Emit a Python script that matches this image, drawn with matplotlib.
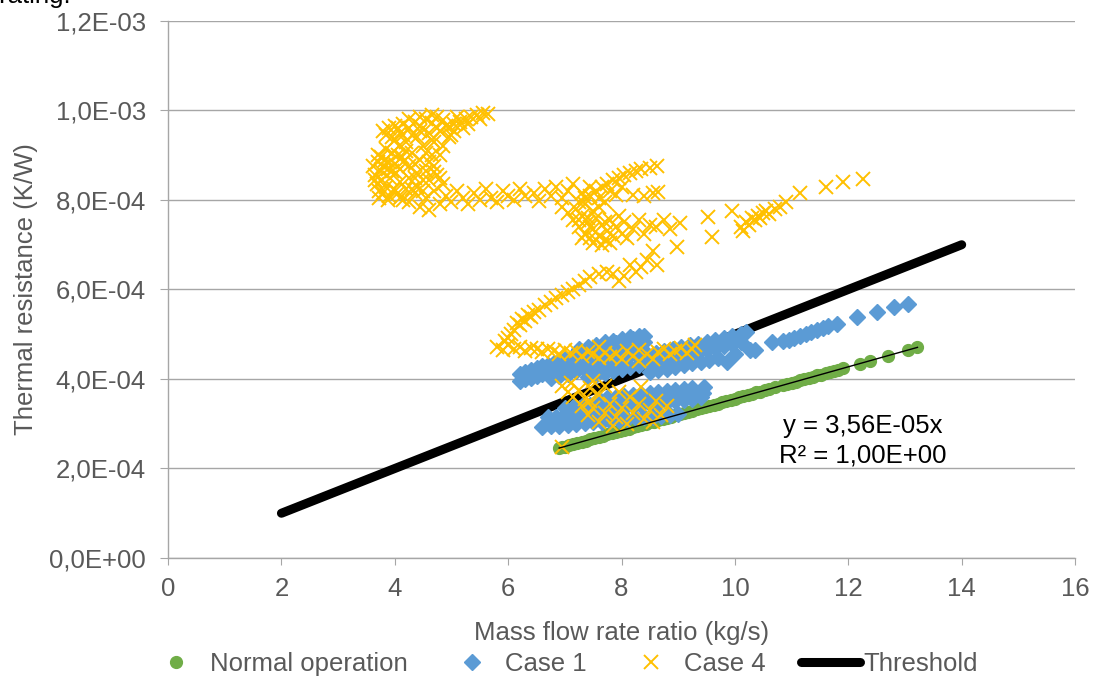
import numpy as np
import matplotlib
matplotlib.use("Agg")
import matplotlib.pyplot as plt
from matplotlib.ticker import FuncFormatter, MultipleLocator

plt.rcParams['font.family'] = ['Liberation Sans', 'DejaVu Sans']

GREEN = '#70AD47'
BLUE = '#5B9BD5'
YELLOW = '#FFC000'
GRID = '#A6A6A6'
TEXT = '#595959'
FS = 18.5

# ---- data (resistance values in units of 1E-04 K/W) ----
normal_x = [6.90, 6.95, 7.00, 7.08, 7.15, 7.22, 7.30, 7.37, 7.45, 7.52, 7.60, 7.68, 7.75, 7.83,
            7.90, 7.98, 8.05, 8.13, 8.20, 8.28, 8.35, 8.43, 8.50, 8.58, 8.65, 8.73, 8.80, 8.88,
            8.95, 9.03, 9.10, 9.18, 9.25, 9.33, 9.40, 9.48, 9.55, 9.63, 9.70, 9.78, 9.85, 9.93,
            10.00, 10.08, 10.15, 10.23, 10.30, 10.38, 10.45, 10.53, 10.60, 10.70, 10.85, 10.92,
            11.00, 11.08, 11.15, 11.22, 11.30, 11.38, 11.45, 11.52, 11.60, 11.68, 11.75, 11.82,
            11.90, 12.20, 12.38, 12.70, 13.05, 13.22]
normal_y = [2.46, 2.47, 2.49, 2.52, 2.55, 2.57, 2.60, 2.62, 2.65, 2.68, 2.71, 2.73, 2.76, 2.79,
            2.81, 2.84, 2.87, 2.89, 2.92, 2.95, 2.97, 3.00, 3.03, 3.05, 3.08, 3.11, 3.13, 3.16,
            3.19, 3.22, 3.24, 3.27, 3.29, 3.32, 3.35, 3.38, 3.40, 3.43, 3.45, 3.48, 3.51, 3.54,
            3.56, 3.59, 3.61, 3.64, 3.67, 3.70, 3.72, 3.75, 3.77, 3.81, 3.86, 3.89,
            3.92, 3.94, 3.97, 3.99, 4.02, 4.05, 4.08, 4.10, 4.13, 4.16, 4.18, 4.21,
            4.24, 4.34, 4.41, 4.52, 4.65, 4.71]

case1_x = [
    # upper-left band
    6.20, 6.30, 6.40, 6.50, 6.60, 6.70, 6.80, 6.90, 7.00, 7.10, 7.20, 7.30, 7.40, 7.50, 7.60,
    7.70, 7.80, 7.90, 8.00, 8.10, 8.20, 8.30, 8.40,
    6.20, 6.30, 6.40, 6.50, 6.60, 6.70, 6.80, 6.90, 7.00, 7.10, 7.20, 7.30, 7.40, 7.50, 7.60,
    7.70, 7.80, 7.90, 8.00, 8.10, 8.20, 8.30, 8.40,
    6.75, 6.90, 7.05, 7.20, 7.35, 7.50, 7.65, 7.80, 7.95, 8.10, 8.25, 8.40,
    7.25, 7.40, 7.55, 7.70, 7.85, 8.00, 8.15, 8.30,
    # middle band over the threshold
    7.40, 7.55, 7.70, 7.85, 8.00, 8.15, 8.30, 8.45, 8.60, 8.75, 8.90, 9.05, 9.20, 9.35, 9.50,
    9.65, 9.80, 9.95, 10.10,
    8.45, 8.60, 8.75, 8.90, 9.05, 9.20, 9.35, 9.50, 9.65, 9.80, 9.95, 10.10, 10.20,
    8.50, 8.65, 8.80, 8.95, 9.10, 9.25, 9.40, 9.55, 9.70, 9.86, 10.00, 10.26, 10.35,
    # lower bands
    6.60, 6.75, 6.90, 7.05, 7.20, 7.35, 7.50, 7.65, 7.80, 7.95, 8.10, 8.25, 8.40, 8.55, 8.70,
    8.85, 9.00,
    6.70, 6.85, 7.00, 7.15, 7.30, 7.45, 7.60, 7.75, 7.90, 8.05, 8.20, 8.35, 8.50, 8.65, 8.80,
    8.95, 9.10, 9.25, 9.40,
    7.00, 7.15, 7.30, 7.45, 7.60, 7.75, 7.90, 8.05, 8.20, 8.35, 8.50, 8.65, 8.80, 8.95, 9.10,
    9.25, 9.44,
    7.60, 7.75, 7.90, 8.05, 8.20, 8.35, 8.50, 8.65, 8.80, 8.95, 9.10, 9.25, 9.45,
    # sparse tail
    10.65, 10.85, 10.95, 11.05, 11.15, 11.25, 11.35, 11.45, 11.55, 11.65, 11.80,
    12.15, 12.50, 12.80, 13.05]
case1_y = [
    3.95, 3.99, 4.03, 4.07, 4.11, 4.15, 4.19, 4.23, 4.27, 4.31, 4.35, 4.39, 4.43, 4.47, 4.51,
    4.55, 4.59, 4.63, 4.67, 4.71, 4.75, 4.79, 4.83,
    4.12, 4.16, 4.20, 4.24, 4.28, 4.32, 4.36, 4.40, 4.44, 4.48, 4.52, 4.56, 4.60, 4.64, 4.68,
    4.72, 4.76, 4.80, 4.84, 4.86, 4.89, 4.93, 4.95,
    4.02, 4.07, 4.12, 4.18, 4.23, 4.28, 4.33, 4.38, 4.44, 4.49, 4.54, 4.60,
    4.66, 4.72, 4.77, 4.82, 4.86, 4.90, 4.94, 4.97,
    4.05, 4.10, 4.14, 4.18, 4.22, 4.26, 4.31, 4.35, 4.39, 4.43, 4.48, 4.52, 4.56, 4.60, 4.65,
    4.69, 4.73, 4.78, 4.82,
    4.55, 4.59, 4.63, 4.67, 4.71, 4.75, 4.79, 4.83, 4.87, 4.91, 4.95, 5.00, 5.05,
    4.15, 4.19, 4.23, 4.27, 4.31, 4.35, 4.39, 4.43, 4.47, 4.38, 4.55, 4.65, 4.65,
    2.92, 2.94, 2.96, 2.97, 2.99, 3.01, 3.03, 3.05, 3.07, 3.09, 3.11, 3.13, 3.14, 3.16, 3.18,
    3.20, 3.22,
    3.14, 3.16, 3.19, 3.21, 3.24, 3.26, 3.29, 3.31, 3.34, 3.36, 3.39, 3.41, 3.44, 3.46, 3.49,
    3.51, 3.54, 3.56, 3.59,
    3.35, 3.38, 3.40, 3.43, 3.46, 3.49, 3.51, 3.54, 3.57, 3.59, 3.62, 3.65, 3.68, 3.70, 3.73,
    3.76, 3.69,
    3.55, 3.57, 3.60, 3.62, 3.64, 3.66, 3.69, 3.71, 3.73, 3.75, 3.78, 3.80, 3.83,
    4.83, 4.85, 4.88, 4.92, 4.97, 5.00, 5.05, 5.10, 5.14, 5.18, 5.24,
    5.39, 5.50, 5.60, 5.68]

case4_x = [
    # top-left cluster
    3.62, 3.65, 3.68, 3.70, 3.72, 3.75, 3.78, 3.80, 3.82, 3.85, 3.88, 3.90, 3.92, 3.95, 3.98,
    4.00, 4.02, 4.05, 4.08, 4.10, 4.12,
    3.80, 3.90, 3.85, 4.00, 4.10, 4.15, 4.25, 4.35, 4.45, 4.55, 4.65, 4.75, 4.85, 4.95, 5.05,
    5.15, 5.25, 5.35, 5.45, 5.55, 5.65, 5.05, 5.20,
    4.20, 4.30, 4.25, 4.40, 4.45, 4.50, 4.35, 4.60, 4.55, 4.70, 4.65, 4.80, 4.75, 4.85, 4.95,
    4.20, 4.15, 4.40, 4.60, 4.70, 4.80, 4.85,
    3.70, 3.75, 3.80, 3.85, 3.90, 3.95, 4.00, 4.05, 4.10, 4.15, 4.20, 4.25, 4.30, 4.35, 4.40,
    4.45, 4.50, 4.55, 4.60, 4.65, 4.70, 4.75, 4.80, 4.90, 5.00, 5.10, 5.30, 5.50, 3.95, 4.05,
    3.72, 3.88, 4.00, 4.15, 4.30, 4.50, 3.65, 4.25, 4.45, 4.65,
    # horizontal streak near 8E-04
    4.10, 4.25, 4.35, 4.45, 4.55, 4.60, 4.70, 4.80, 4.90, 5.00, 5.10, 5.20, 5.30, 5.40, 5.50,
    5.60, 5.70, 5.80, 5.90, 6.00, 6.10, 6.20, 6.30, 6.45, 6.55, 6.65, 6.75, 6.85, 6.95, 7.05,
    7.15, 7.30, 7.45,
    7.25, 7.35, 7.45, 7.55, 7.65, 7.75, 7.85, 7.95, 8.05, 8.15, 8.25, 8.35, 8.50, 8.62, 7.60,
    7.80, 8.00, 8.20, 8.40, 8.55, 8.65, 7.70, 7.90,
    # descending cluster
    6.95, 7.05, 7.15, 7.20, 7.25, 7.30, 7.35, 7.40, 7.45, 7.50, 7.55, 7.60, 7.65, 7.70, 7.75,
    7.80, 7.85, 7.90, 7.95, 8.00, 8.05, 8.10, 8.20, 8.30, 8.40, 8.50, 8.60, 8.75, 8.85, 9.03,
    8.98, 7.50, 7.65,
    7.30, 7.45, 7.55, 7.70, 7.80, 7.40, 7.25, 7.35, 7.60, 7.50,
    # sparse right branch
    9.52, 9.60, 9.95, 10.10, 10.20, 10.25, 10.30, 10.35, 10.40, 10.45, 10.50, 10.55, 10.60,
    10.70, 10.80, 10.90, 11.15, 11.60, 11.90, 12.26, 10.15,
    # diagonal streak
    8.55, 8.62, 8.45, 8.35, 8.25, 8.15, 8.05, 7.95, 7.85, 7.75, 7.60, 7.45, 7.35, 7.25, 7.15,
    7.05, 6.95, 6.85, 6.75, 6.65, 6.55, 6.45, 6.35, 6.25, 6.15, 6.10, 6.05, 6.00, 5.95, 6.20,
    6.30, 6.40,
    # band near 4.6E-04
    5.80, 5.90, 6.00, 6.10, 6.20, 6.30, 6.40, 6.50, 6.60, 6.70, 6.80, 6.90, 7.00, 7.10, 7.20,
    7.30, 7.40, 7.50, 7.60, 7.70, 7.80, 7.90, 8.00, 8.10, 8.20, 8.30, 8.45, 8.55, 8.65, 8.75,
    8.85, 8.95, 9.05, 9.15, 9.25, 8.30, 7.60, 9.30,
    # lower cluster
    6.95, 7.05, 7.15, 7.10, 7.25, 7.35, 7.45, 7.50, 7.60, 7.70, 7.30, 7.40, 7.50, 7.60, 7.70,
    7.80, 7.90, 8.00, 8.10, 8.20, 8.30, 8.40, 8.50, 8.60, 8.70, 8.80, 8.35, 7.95, 8.15, 6.95,
    7.45, 7.85, 8.55]
case4_y = [
    8.75, 8.55, 8.35, 8.85, 8.20, 8.65, 8.45, 8.15, 8.90, 8.30, 8.70, 8.10, 8.50, 9.05, 8.25,
    8.80, 8.60, 8.15, 9.20, 8.40, 8.95,
    9.55, 9.60, 9.45, 9.65, 9.50, 9.70, 9.60, 9.75, 9.65, 9.80, 9.72, 9.85, 9.78, 9.62, 9.70,
    9.75, 9.80, 9.85, 9.90, 9.95, 9.92, 9.55, 9.60,
    9.30, 9.05, 8.75, 9.40, 8.90, 9.20, 8.50, 9.50, 8.65, 9.30, 9.00, 9.55, 8.55, 9.20, 9.40,
    8.25, 9.45, 8.30, 8.45, 8.62, 8.50, 8.35,
    9.00, 8.95, 8.75, 9.15, 8.85, 8.65, 9.35, 9.00, 8.70, 8.85, 9.10, 8.50, 9.45, 8.80, 8.60,
    9.55, 8.45, 9.05, 8.85, 9.35, 8.75, 9.60, 9.00, 9.65, 9.45, 9.85, 9.70, 9.80, 9.40, 9.60,
    8.05, 8.00, 8.20, 8.00, 8.25, 8.20, 8.45, 9.80, 9.85, 9.90,
    8.05, 7.95, 8.15, 7.85, 8.05, 7.78, 8.20, 7.90, 8.10, 7.95, 8.20, 8.05, 7.90, 8.15, 8.00,
    8.25, 8.05, 7.95, 8.20, 8.10, 8.00, 8.25, 8.10, 8.15, 7.98, 8.25, 8.10, 8.28, 8.05, 8.20,
    8.35, 8.15, 8.30,
    7.95, 8.05, 8.10, 8.20, 8.30, 8.35, 8.45, 8.50, 8.55, 8.60, 8.65, 8.70, 8.72, 8.75, 8.05,
    8.20, 8.30, 8.12, 8.10, 8.15, 8.18, 7.95, 8.12,
    7.85, 7.70, 7.55, 7.80, 7.40, 7.65, 7.25, 7.50, 7.15, 7.35, 7.60, 7.20, 7.45, 7.10, 7.30,
    7.55, 7.20, 7.40, 7.65, 7.25, 7.50, 7.15, 7.35, 7.55, 7.25, 7.45, 7.40, 7.55, 7.35, 7.49,
    6.95, 7.05, 7.00,
    7.15, 7.40, 7.10, 7.50, 7.05, 7.60, 7.55, 7.90, 7.85, 7.75,
    7.62, 7.17, 7.75, 7.40, 7.50, 7.45, 7.60, 7.55, 7.65, 7.60, 7.70, 7.75, 7.68,
    7.80, 7.85, 7.95, 8.16, 8.29, 8.40, 8.47, 7.30,
    6.85, 6.55, 6.65, 6.50, 6.40, 6.55, 6.30, 6.20, 6.35, 6.40, 6.35, 6.28, 6.20, 6.10, 6.02,
    5.95, 5.88, 5.80, 5.72, 5.65, 5.55, 5.50, 5.42, 5.35, 5.25, 5.10, 5.00, 4.92, 4.85, 5.20,
    5.30, 5.38,
    4.72, 4.65, 4.75, 4.68, 4.72, 4.62, 4.70, 4.66, 4.60, 4.68, 4.62, 4.55, 4.65, 4.58, 4.62,
    4.52, 4.60, 4.55, 4.48, 4.58, 4.50, 4.55, 4.45, 4.62, 4.52, 4.65, 4.55, 4.45, 4.60, 4.68,
    4.55, 4.62, 4.70, 4.58, 4.66, 4.40, 4.72, 4.75,
    3.85, 3.70, 3.60, 3.90, 3.75, 3.55, 3.80, 3.95, 3.65, 3.85, 3.40, 3.20, 3.35, 3.05, 3.25,
    3.45, 3.15, 3.35, 3.00, 3.25, 3.45, 3.10, 3.30, 3.50, 3.20, 3.40, 3.82, 3.70, 3.60, 2.48,
    3.50, 2.95, 3.05]

threshold_x = [2, 14]
threshold_y = [1.0, 7.0]

SCALE = 1e-4

fig = plt.figure(figsize=(10.94, 6.79), dpi=100)
ax = fig.add_axes([0.1536, 0.1782, 0.8291, 0.7909])

l_thr, = ax.plot(threshold_x, np.array(threshold_y) * SCALE, color='black', lw=6.5,
                 solid_capstyle='round', zorder=2, label='Threshold')
l_norm, = ax.plot(normal_x, np.array(normal_y) * SCALE, 'o', color=GREEN, ms=8.5,
                  mec=GREEN, zorder=3, label='Normal operation')
l_c1, = ax.plot(case1_x, np.array(case1_y) * SCALE, 'D', color=BLUE, ms=8.5,
                mec=BLUE, zorder=4, label='Case 1')
l_c4, = ax.plot(case4_x, np.array(case4_y) * SCALE, 'x', color=YELLOW, ms=10.5, mew=1.4,
                zorder=5, label='Case 4')

# linear trendline through origin for normal operation
nx = np.array(normal_x)
ny = np.array(normal_y) * SCALE
slope = np.sum(nx * ny) / np.sum(nx * nx)
tx = np.array([nx.min(), nx.max()])
ax.plot(tx, slope * tx, color='black', lw=1, zorder=6)
ax.text(12.25, 2.62e-4, 'y = 3,56E-05x\nR² = 1,00E+00', ha='center', va='center',
        fontsize=FS, color='black', linespacing=1.3, zorder=7)

ax.set_xlim(0, 16)
ax.set_ylim(0, 1.2e-3)
ax.xaxis.set_major_locator(MultipleLocator(2))
ax.yaxis.set_major_locator(MultipleLocator(2e-4))
ax.yaxis.set_major_formatter(FuncFormatter(lambda v, p: f"{v:.1E}".replace('.', ',')))
ax.grid(axis='y', color=GRID, lw=1)
ax.set_axisbelow(True)
for s in ['top', 'right']:
    ax.spines[s].set_visible(False)
for s in ['left', 'bottom']:
    ax.spines[s].set_color(GRID)
    ax.spines[s].set_linewidth(1)
ax.tick_params(axis='y', length=6, color=GRID, labelsize=FS, labelcolor=TEXT, pad=10)
ax.tick_params(axis='x', length=5, color=GRID, labelsize=FS, labelcolor=TEXT, pad=9)

ax.set_xlabel('Mass flow rate ratio (kg/s)', fontsize=FS, color=TEXT, labelpad=14)
ax.set_ylabel('Thermal resistance (K/W)', fontsize=FS, color=TEXT, labelpad=8)

leg = fig.legend([l_norm, l_c1, l_c4, l_thr],
                 ['Normal operation', 'Case 1', 'Case 4', 'Threshold'],
                 loc='center', bbox_to_anchor=(0.514, 0.022), ncol=4, frameon=False,
                 fontsize=FS, handlelength=2.3, handletextpad=0.15, columnspacing=1.35,
                 borderaxespad=0)
for t in leg.get_texts():
    t.set_color(TEXT)

fig.text(72 / 1094, 1 - 3 / 679, 'operating.', ha='right', va='baseline',
         fontsize=FS, color='black')

fig.savefig('out.png', dpi=100)
